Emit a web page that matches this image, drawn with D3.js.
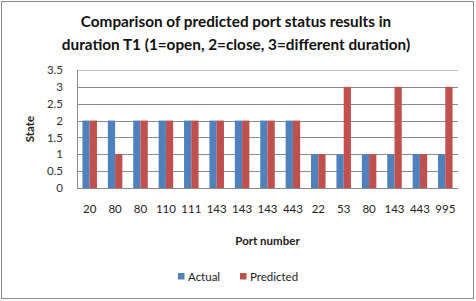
<!DOCTYPE html>
<html>
<head>
<meta charset="utf-8">
<script src="https://cdn.jsdelivr.net/npm/d3@7"></script>
<style>
  body { margin: 0; background: #fff; }
  svg { font-family: Lato, "Open Sans", sans-serif; }
</style>
</head>
<body>
<svg id="chart"></svg>
<script>
// donnees
const ports = ["20", "80", "80", "110", "111", "143", "143", "143", "443", "22", "53", "80", "143", "443", "995"];
const actual = [2, 2, 2, 2, 2, 2, 2, 2, 2, 1, 1, 1, 1, 1, 1];
const predicted = [2, 1, 2, 2, 2, 2, 2, 2, 2, 1, 3, 1, 3, 1, 3];
const yTicks = [0, 0.5, 1, 1.5, 2, 2.5, 3, 3.5];
const seriesNames = ["Actual", "Predicted"];
const colors = ["#4F81BD", "#C0504D"];

const W = 476, H = 301;
const margin = { top: 70, right: 18, bottom: 113, left: 77 };
const width = W - margin.left - margin.right;
const height = H - margin.top - margin.bottom;

const svg = d3.select("#chart").attr("width", W).attr("height", H);

svg.append("rect")
    .attr("x", 1.5).attr("y", 1.5)
    .attr("width", W - 4).attr("height", H - 4)
    .attr("fill", "#fff").attr("stroke", "#8c8c8c");

const g = svg.append("g").attr("transform", `translate(${margin.left},${margin.top})`);

const x = d3.scaleBand().domain(d3.range(ports.length)).range([0, width]).paddingInner(0).paddingOuter(0);
const bw = x.bandwidth() / 3.5; // gap width 150%
const x1 = d3.scaleBand().domain(seriesNames).range([0.75 * bw, 2.75 * bw]);

const y = d3.scaleLinear().domain([0, 3.5]).range([height, 0]);

// grille
g.selectAll(".grid")
    .data(yTicks)
    .enter().append("line")
    .attr("x1", 0).attr("x2", width)
    .attr("y1", d => Math.round(y(d)) + 0.5).attr("y2", d => Math.round(y(d)) + 0.5)
    .attr("stroke", d => d === 3.5 ? "#bdbdbd" : "#8a8a8a");

// barres
const rows = ports.map((p, i) => ({ i, vals: [actual[i], predicted[i]] }));
const grp = g.selectAll(".cat")
    .data(rows)
    .enter().append("g")
    .attr("transform", d => `translate(${x(d.i)},0)`);

grp.selectAll("rect")
    .data(d => d.vals.map((v, k) => ({ k, v })))
    .enter().append("rect")
    .attr("x", d => x1(seriesNames[d.k]))
    .attr("width", x1.bandwidth())
    .attr("y", d => y(d.v))
    .attr("height", d => y(0) - y(d.v))
    .attr("fill", d => colors[d.k]);

// axe vertical
g.append("line")
    .attr("x1", 0.5).attr("x2", 0.5).attr("y1", 0).attr("y2", height)
    .attr("stroke", "#8a8a8a");

const yAxis = g.append("g")
    .call(d3.axisLeft(y).tickValues(yTicks).tickSize(0).tickPadding(14).tickFormat(d3.format("")));
yAxis.select(".domain").remove();
yAxis.selectAll("text").attr("font-size", 11.5).attr("fill", "#333").attr("font-family", "Lato, sans-serif");

const xAxis = g.append("g")
    .attr("transform", `translate(0,${height})`)
    .call(d3.axisBottom(x).tickSize(0).tickPadding(17).tickFormat(i => ports[i]));
xAxis.select(".domain").remove();
xAxis.selectAll("text").attr("font-size", 11.5).attr("fill", "#222").attr("font-family", "Lato, sans-serif");

// titres
const title = svg.append("text")
    .attr("x", 236).attr("y", 27)
    .attr("text-anchor", "middle")
    .attr("font-weight", "bold").attr("font-size", 15.3).attr("fill", "#111");
title.append("tspan").attr("x", 236).text("Comparison of predicted port status results in");
title.append("tspan").attr("x", 236).attr("dy", 23).text("duration T1 (1=open, 2=close, 3=different duration)");

svg.append("text")
    .attr("x", margin.left + width / 2).attr("y", 245)
    .attr("text-anchor", "middle")
    .attr("font-weight", "bold").attr("font-size", 11.5).attr("fill", "#222")
    .text("Port number");

svg.append("text")
    .attr("transform", `translate(34,${margin.top + height / 2}) rotate(-90)`)
    .attr("text-anchor", "middle")
    .attr("font-weight", "bold").attr("font-size", 11.5).attr("fill", "#222")
    .text("State");

// legende
const legend = svg.append("g");
const legX = [178, 240];
seriesNames.forEach((name, k) => {
    legend.append("rect")
        .attr("x", legX[k]).attr("y", 273)
        .attr("width", 6.5).attr("height", 6.5)
        .attr("fill", colors[k]);
    legend.append("text")
        .attr("x", legX[k] + 10).attr("y", 281)
        .attr("font-size", 11.5).attr("fill", "#222")
        .text(name);
});
</script>
</body>
</html>
